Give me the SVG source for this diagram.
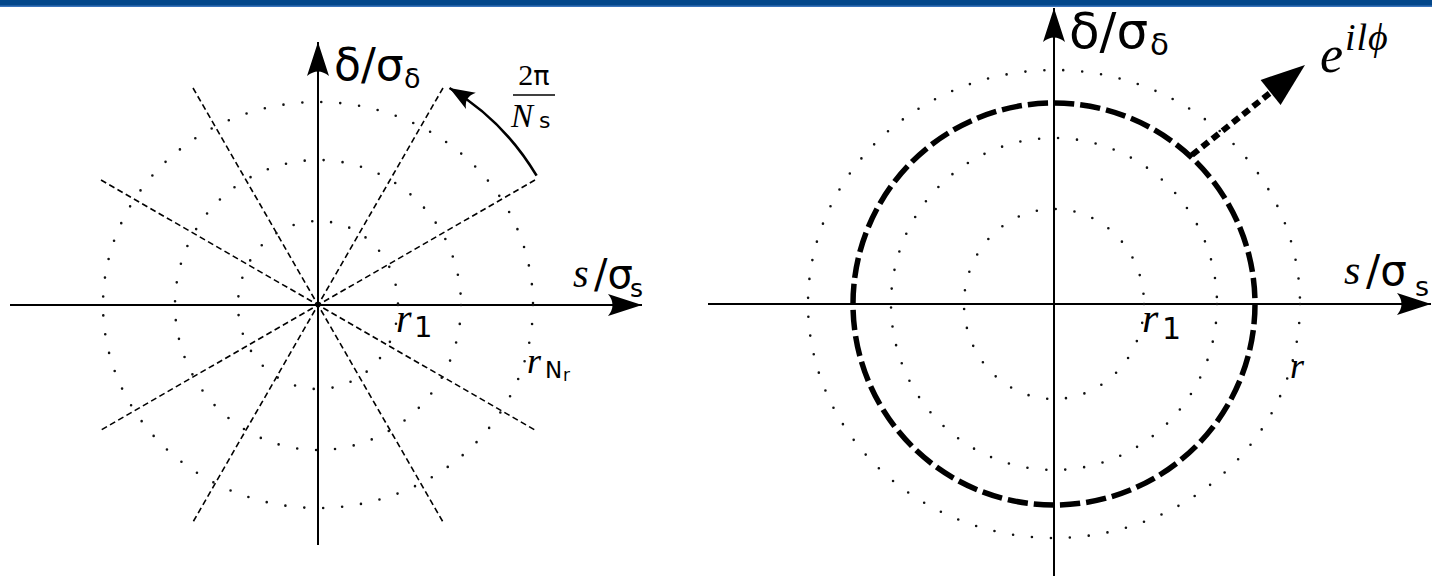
<svg xmlns="http://www.w3.org/2000/svg" width="1432" height="576" viewBox="0 0 1432 576">
<style>
.axis{stroke:#000;stroke-width:2;fill:none}
.ring{stroke:#111;stroke-width:2.6;fill:none;stroke-dasharray:0 19;stroke-linecap:round}
.ray{stroke:#000;stroke-width:1.6;fill:none;stroke-dasharray:6 3.5}
.sans{font-family:"DejaVu Sans",sans-serif;fill:#000}
.mi{font-family:"Liberation Serif",serif;font-style:italic;fill:#000}
.rm{font-family:"Liberation Serif",serif;fill:#000}
</style>
<defs>
<marker id="ax" markerUnits="userSpaceOnUse" markerWidth="40" markerHeight="30" refX="0" refY="0" orient="auto" overflow="visible">
<path d="M0,0 L-34,-11 Q-25,0 -34,11 Z" fill="#000"/>
</marker>
<marker id="arc" markerUnits="userSpaceOnUse" markerWidth="30" markerHeight="20" refX="0" refY="0" orient="auto" overflow="visible">
<path d="M0,0 L-25,-9.5 Q-17,0 -25,9.5 Z" fill="#000"/>
</marker>
</defs>
<rect x="0" y="0" width="1432" height="6" fill="#03478a"/>
<rect x="0" y="5.5" width="1432" height="1.5" fill="#3a74bb"/>

<g id="connectors">
<path class="axis" d="M10,305 H642" marker-end="url(#ax)"/>
<path class="axis" d="M318,545 V42" marker-end="url(#ax)"/>
<path class="ray" d="M535,180 L101,430"/>
<path class="ray" d="M443,88 L193,522"/>
<path class="ray" d="M193,88 L443,522"/>
<path class="ray" d="M101,180 L535,430"/>
<path d="M536.6,175.7 A254,254 0 0 0 449.5,88" fill="none" stroke="#000" stroke-width="2.6" marker-end="url(#arc)"/>
<path class="axis" d="M708,304 H1431" marker-end="url(#ax)"/>
<path class="axis" d="M1054,576 V8" marker-end="url(#ax)"/>
<path d="M1192,155 L1270,93" stroke="#000" stroke-width="6" stroke-dasharray="8 5" fill="none"/>
<polygon points="1305,65 1280.6,104.9 1260.6,79.9" fill="#000"/>
</g>

<g id="left-rings">
<ellipse class="ring" cx="318" cy="305" rx="80" ry="84"/>
<ellipse class="ring" cx="318" cy="305" rx="143" ry="145"/>
<ellipse class="ring" cx="318" cy="305" rx="215" ry="203"/>
</g>
<g id="right-rings">
<ellipse class="ring" cx="1054" cy="304" rx="90" ry="95"/>
<ellipse class="ring" cx="1054" cy="304" rx="163" ry="166"/>
<ellipse class="ring" cx="1054" cy="304" rx="246" ry="234"/>
<circle cx="1054" cy="304" r="201" fill="none" stroke="#000" stroke-width="5.5" stroke-dasharray="20.3 6"/>
</g>

<g id="left-labels">
<text class="sans" x="334" y="80" font-size="44">δ/σ</text>
<text class="sans" x="404" y="88" font-size="27">δ</text>
<text class="rm" x="534" y="85" font-size="30" text-anchor="middle">2<tspan class="sans" font-size="27">π</tspan></text>
<line x1="513" y1="95" x2="555" y2="95" stroke="#000" stroke-width="1.4"/>
<text class="mi" x="511" y="127" font-size="33">N</text>
<text class="sans" x="539" y="128" font-size="22">s</text>
<text class="mi" x="573" y="287" font-size="40">s</text>
<text class="sans" x="594" y="288" font-size="40">/σ</text>
<text class="sans" x="630" y="297" font-size="25">s</text>
<text class="mi" x="396" y="332" font-size="40">r</text>
<text class="sans" x="414" y="337" font-size="29">1</text>
<text class="mi" x="527" y="373" font-size="36">r</text>
<text class="sans" x="545" y="378" font-size="23">N</text>
<text class="sans" x="563" y="381" font-size="17">r</text>
</g>

<g id="right-labels">
<text class="sans" x="1069" y="48" font-size="50">δ/σ</text>
<text class="sans" x="1150" y="55" font-size="31">δ</text>
<text class="mi" x="1320" y="72" font-size="52">e</text>
<text class="mi" x="1345" y="50" font-size="38" letter-spacing="1">ilϕ</text>
<text class="mi" x="1344" y="284" font-size="42">s</text>
<text class="sans" x="1366" y="285" font-size="42">/σ</text>
<text class="sans" x="1415" y="296" font-size="27">s</text>
<text class="mi" x="1142" y="332" font-size="42">r</text>
<text class="sans" x="1162" y="339" font-size="30">1</text>
<text class="mi" x="1290" y="378" font-size="36">r</text>
</g>
</svg>
